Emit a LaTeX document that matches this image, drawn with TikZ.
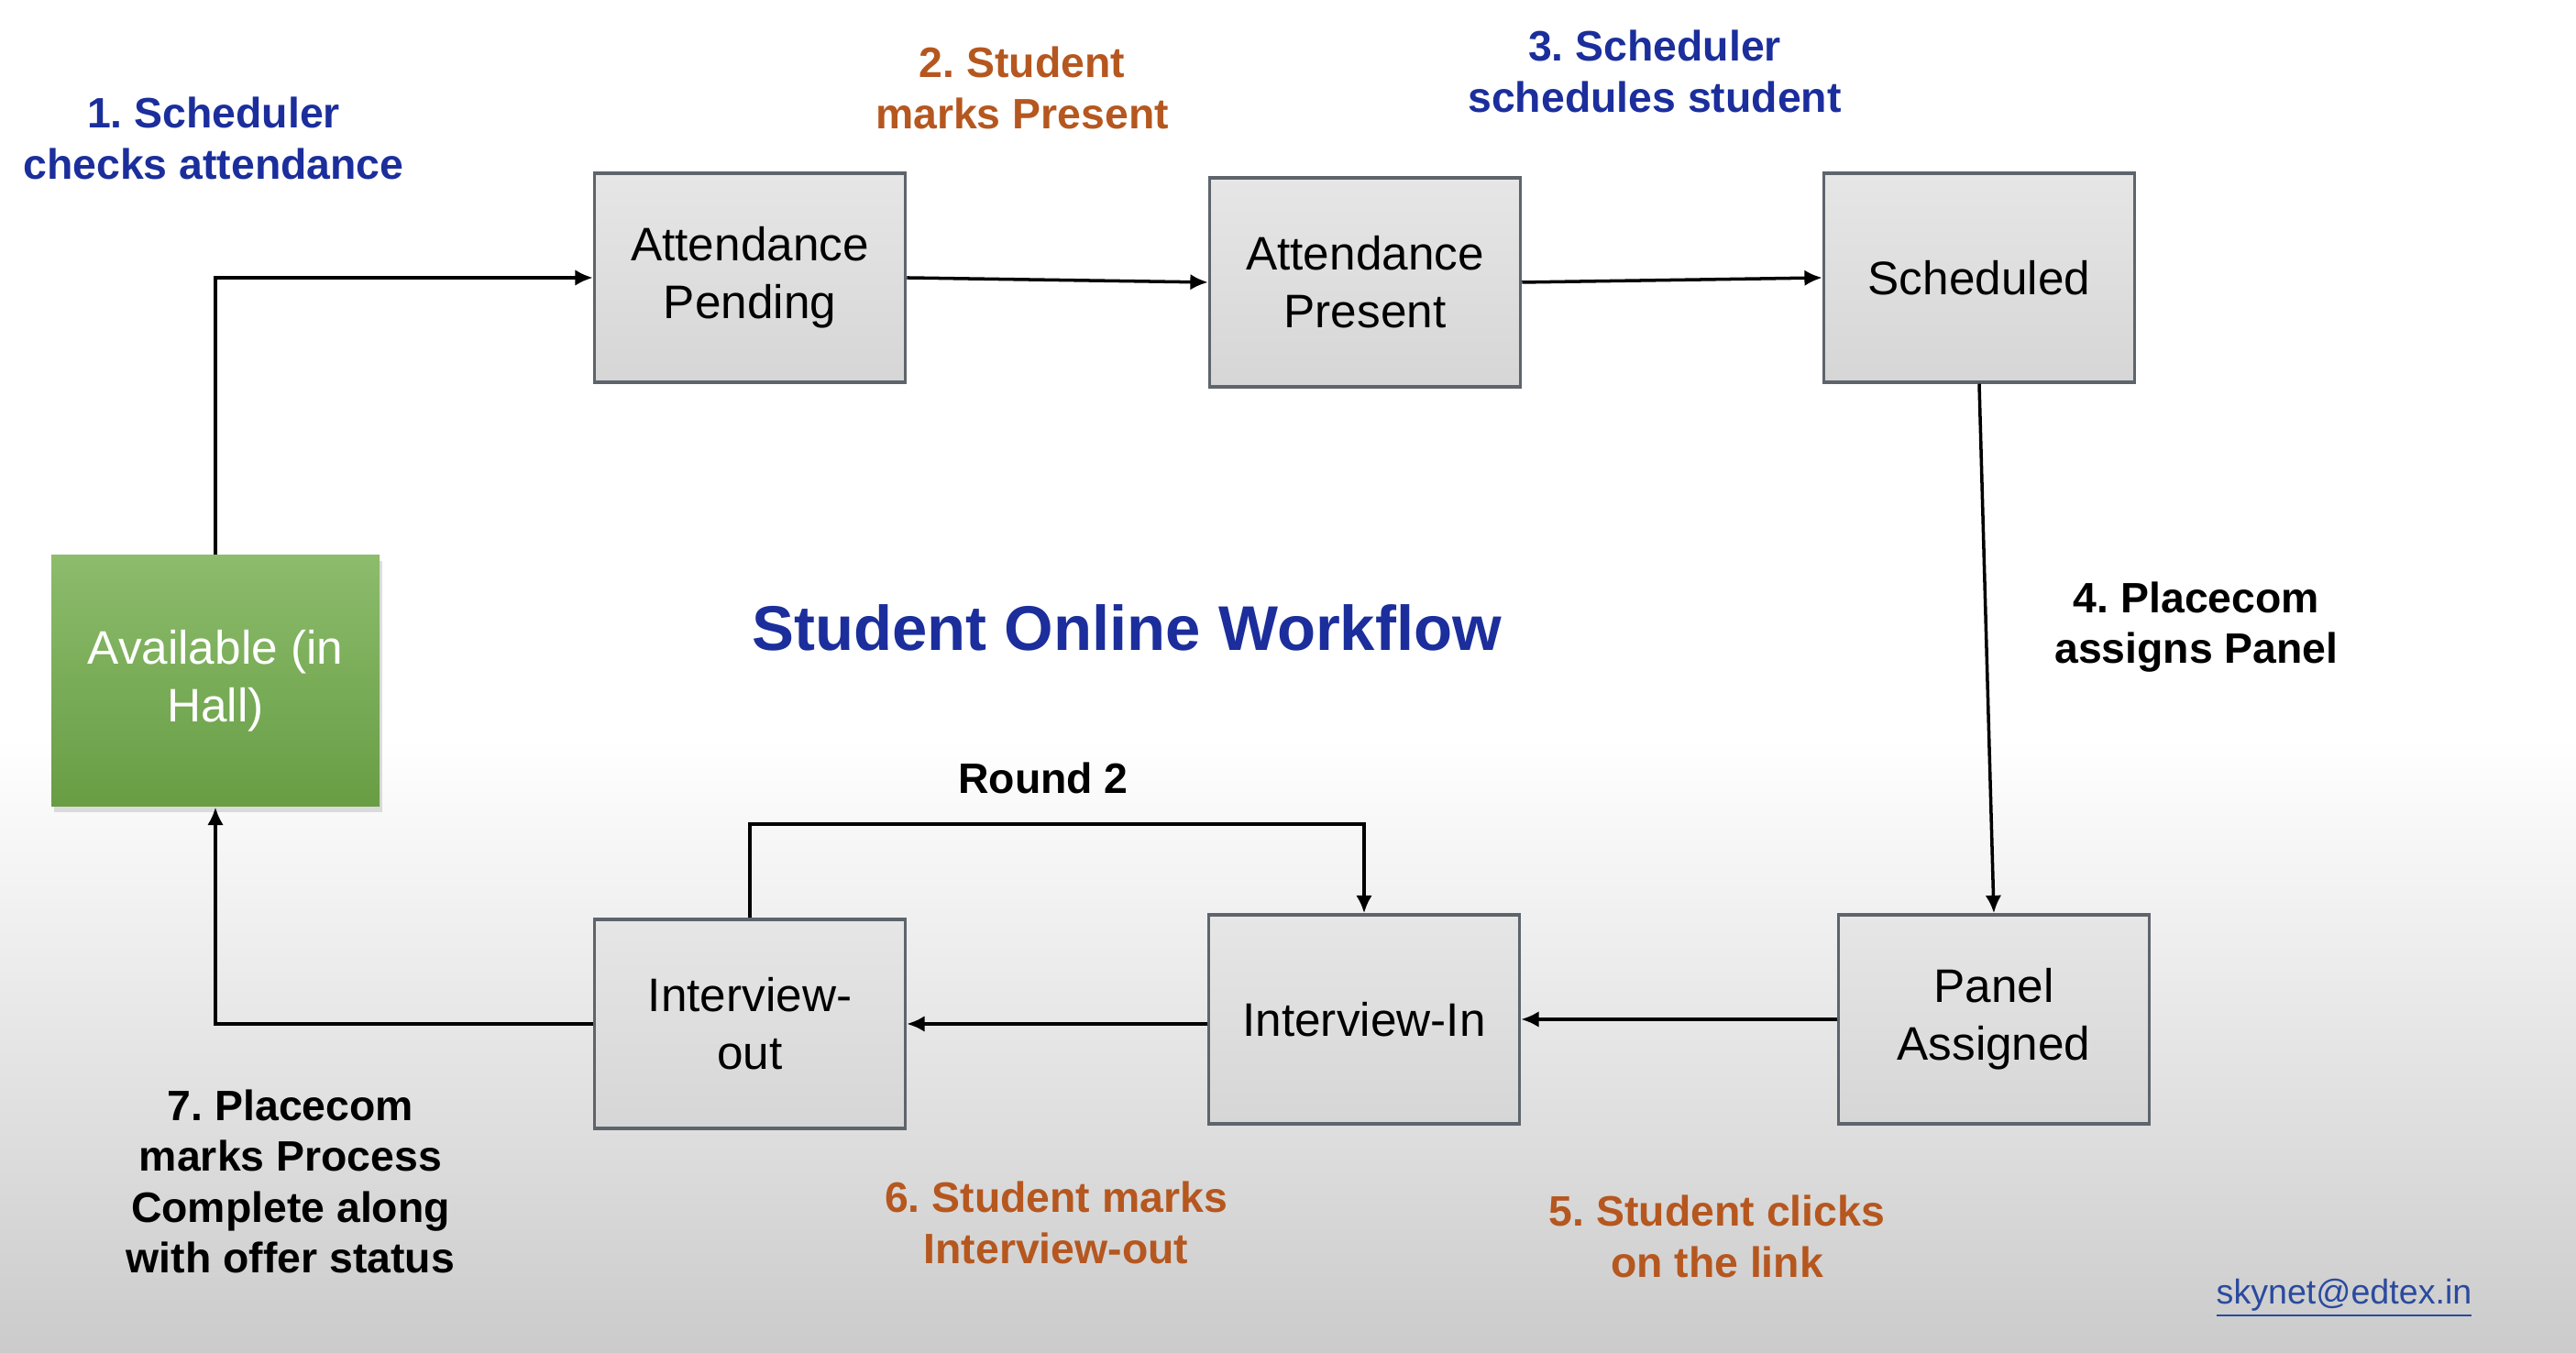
\documentclass[tikz,border=0pt]{standalone}
\usepackage{fontspec}
\setmainfont{Liberation Sans}
\frenchspacing
\usetikzlibrary{arrows.meta, shadows}
\usepackage{xcolor}
\definecolor{FlowBlue}{HTML}{1B2E9C}
\definecolor{FlowOrange}{HTML}{B5571F}
\definecolor{FlowEdge}{HTML}{5E646C}
\definecolor{BoxTop}{HTML}{E6E6E6}
\definecolor{BoxBottom}{HTML}{D6D6D6}
\definecolor{HallTop}{HTML}{8CBC6C}
\definecolor{HallBottom}{HTML}{689D44}
\definecolor{BgGray}{HTML}{CBCBCB}
\definecolor{MailBlue}{HTML}{2A4A9E}
\tikzset{
    % Box styles
    state/.style={
        rectangle,
        draw=FlowEdge,
        top color=BoxTop,
        bottom color=BoxBottom,
        line width=1pt,
        minimum width=3.39cm,
        minimum height=2.28cm,
        align=center,
        font=\fontsize{14.6}{18}\selectfont
    },
    hall/.style={
        rectangle,
        top color=HallTop,
        bottom color=HallBottom,
        text=white,
        minimum width=3.58cm,
        minimum height=2.74cm,
        align=center,
        font=\fontsize{14.6}{18}\selectfont,
        drop shadow={opacity=0.25, shadow xshift=0.03cm, shadow yshift=-0.06cm}
    },
    % Label styles
    steplabel/.style={
        align=center,
        font=\bfseries\fontsize{13.2}{15.8}\selectfont
    },
    % Arrow styles
    arrow/.style={
        -{Latex[length=5.5pt, width=5pt]},
        line width=1pt,
        draw=black
    }
}
\begin{document}
\begin{tikzpicture}
    \useasboundingbox (0,0) rectangle (28.1,14.76);
    % Background
    \fill[white] (0,6.7) rectangle (28.1,14.76);
    \shade[top color=white, bottom color=BgGray] (0,0) rectangle (28.1,6.7);

    % States
    \node[hall] (avail) at (2.35,7.33) {Available (in\\Hall)};
    \node[state] (apend) at (8.18,11.73) {Attendance\\Pending};
    \node[state] (apres) at (14.89,11.68) {Attendance\\Present};
    \node[state] (sched) at (21.59,11.73) {Scheduled};
    \node[state] (panel) at (21.75,3.64) {Panel\\Assigned};
    \node[state] (intin) at (14.88,3.64) {Interview-In};
    \node[state] (intout) at (8.18,3.59) {Interview-\\out};

    % Transitions
    \draw[arrow] (avail.north) |- (apend.west);
    \draw[arrow] (apend.east) -- (apres.west);
    \draw[arrow] (apres.east) -- (sched.west);
    \draw[arrow] (sched.south) -- (panel.north);
    \draw[arrow] (panel.west) -- (intin.east);
    \draw[arrow] (intin.west |- intout.east) -- (intout.east);
    \draw[arrow] (intout.west) -| (avail.south);
    \draw[arrow] (intout.north) -- ++(0,1.02) -| (intin.north);

    % Step labels
    \node[steplabel, text=FlowBlue] (l1) at (2.33,13.25) {1. Scheduler\\checks attendance};
    \node[steplabel, text=FlowOrange] (l2) at (11.15,13.80) {2. Student\\marks Present};
    \node[steplabel, text=FlowBlue] (l3) at (18.05,13.98) {3. Scheduler\\schedules student};
    \node[steplabel] (l4) at (23.96,7.92) {4. Placecom\\assigns Panel};
    \node[steplabel, text=FlowOrange] (l5) at (18.73,1.27) {5. Student clicks\\on the link};
    \node[steplabel, text=FlowOrange] (l6) at (11.52,1.42) {6. Student marks\\Interview-out};
    \node[steplabel] (l7) at (3.17,1.87) {7. Placecom\\marks Process\\Complete along\\with offer status};
    \node[steplabel] (round) at (11.38,6.27) {Round 2};

    % Title and contact
    \node[font=\bfseries\fontsize{19.6}{23}\selectfont, text=FlowBlue] (title) at (12.29,7.91) {Student Online Workflow};
    \node[font=\fontsize{10.7}{13}\selectfont, text=MailBlue] (mail) at (25.57,0.60) {\underline{skynet@edtex.in}};
\end{tikzpicture}
\end{document}
